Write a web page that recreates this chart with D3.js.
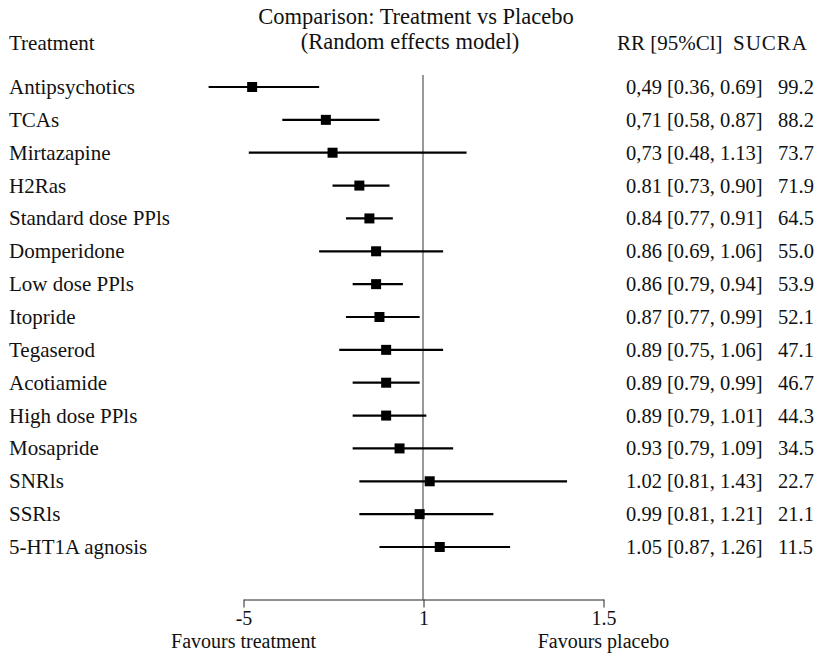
<!DOCTYPE html>
<html>
<head>
<meta charset="utf-8">
<script src="https://cdn.jsdelivr.net/npm/d3@7"></script>
<style>
  body { margin: 0; background: #fff; }
  text { font-family: "Liberation Serif", "DejaVu Serif", serif; fill: #111; }
</style>
</head>
<body>
<svg width="826" height="653"></svg>
<script>
var treatments = ["Antipsychotics", "TCAs", "Mirtazapine", "H2Ras", "Standard dose PPls",
  "Domperidone", "Low dose PPls", "Itopride", "Tegaserod", "Acotiamide",
  "High dose PPls", "Mosapride", "SNRls", "SSRls", "5-HT1A agnosis"];
var rr    = [0.49, 0.71, 0.73, 0.81, 0.84, 0.86, 0.86, 0.87, 0.89, 0.89, 0.89, 0.93, 1.02, 0.99, 1.05];
var lower = [0.36, 0.58, 0.48, 0.73, 0.77, 0.69, 0.79, 0.77, 0.75, 0.79, 0.79, 0.79, 0.81, 0.81, 0.87];
var upper = [0.69, 0.87, 1.13, 0.90, 0.91, 1.06, 0.94, 0.99, 1.06, 0.99, 1.01, 1.09, 1.43, 1.21, 1.26];
var rrText = ["0,49 [0.36, 0.69]", "0,71 [0.58, 0.87]", "0,73 [0.48, 1.13]", "0.81 [0.73, 0.90]",
  "0.84 [0.77, 0.91]", "0.86 [0.69, 1.06]", "0.86 [0.79, 0.94]", "0.87 [0.77, 0.99]",
  "0.89 [0.75, 1.06]", "0.89 [0.79, 0.99]", "0.89 [0.79, 1.01]", "0.93 [0.79, 1.09]",
  "1.02 [0.81, 1.43]", "0.99 [0.81, 1.21]", "1.05 [0.87, 1.26]"];
var sucra = ["99.2", "88.2", "73.7", "71.9", "64.5", "55.0", "53.9", "52.1", "47.1", "46.7",
  "44.3", "34.5", "22.7", "21.1", "11.5"];
var tickValues = [0.5, 1, 1.5];
var tickLabels = ["-5", "1", "1.5"];

var svg = d3.select("svg");

var rows = treatments.map(function(t, i) {
  return {name: t, rr: rr[i], lo: lower[i], hi: upper[i], txt: rrText[i], sucra: sucra[i]};
});

// marks scale (1 sits at the reference line)
var x = d3.scaleLinear().domain([0.5, 1.5]).range([255.5, 590.5]);
// the printed axis is spaced a little wider than the marks
var xAxisScale = d3.scaleLinear().domain([0.5, 1.5]).range([243.5, 603.5]);

var y = d3.scalePoint().domain(treatments).range([87, 547]);

// header
svg.append("text").attr("x", 416).attr("y", 24).attr("text-anchor", "middle")
  .style("font-size", "22.5px").text("Comparison: Treatment vs Placebo");
svg.append("text").attr("x", 410).attr("y", 49).attr("text-anchor", "middle")
  .style("font-size", "22.5px").text("(Random effects model)");
svg.append("text").attr("x", 9).attr("y", 50).style("font-size", "21px").text("Treatment");
svg.append("text").attr("x", 617).attr("y", 50).style("font-size", "21px").text("RR [95%Cl]");
svg.append("text").attr("x", 733).attr("y", 50).style("font-size", "21px")
  .style("letter-spacing", "1px").text("SUCRA");

// reference line at 1
svg.append("line")
  .attr("x1", x(1)).attr("x2", x(1))
  .attr("y1", 75).attr("y2", 599.5)
  .style("stroke", "#555").style("stroke-width", 1.2);

// axis
var axis = svg.append("g")
  .attr("transform", "translate(0,599.5)")
  .call(d3.axisBottom(xAxisScale).tickValues(tickValues)
    .tickFormat(function(d, i) { return tickLabels[i]; })
    .tickSize(8).tickSizeOuter(0).tickPadding(3));
axis.select(".domain").style("stroke", "#222");
axis.selectAll(".tick line").style("stroke", "#222");
axis.selectAll(".tick text")
  .style("font-family", "Liberation Serif, serif")
  .style("font-size", "20px").style("fill", "#111");

svg.append("text").attr("x", xAxisScale(0.5)).attr("y", 648).attr("text-anchor", "middle")
  .style("font-size", "20px").text("Favours treatment");
svg.append("text").attr("x", xAxisScale(1.5)).attr("y", 648).attr("text-anchor", "middle")
  .style("font-size", "20px").text("Favours placebo");

// rows
var row = svg.append("g").selectAll("g")
  .data(rows)
  .enter().append("g")
    .attr("transform", function(d) { return "translate(0," + y(d.name) + ")"; });

row.append("text").attr("x", 9).attr("y", 7)
  .style("font-size", "21px").text(function(d) { return d.name; });

row.append("line")
  .attr("x1", function(d) { return x(d.lo); })
  .attr("x2", function(d) { return x(d.hi); })
  .style("stroke", "#000").style("stroke-width", 2.2);

row.append("rect")
  .attr("x", function(d) { return x(d.rr) - 5; })
  .attr("y", -5)
  .attr("width", 10).attr("height", 10)
  .style("fill", "#000");

row.append("text").attr("x", 626).attr("y", 7)
  .style("font-size", "20.5px").text(function(d) { return d.txt; });
row.append("text").attr("x", 778).attr("y", 7)
  .style("font-size", "20.5px").text(function(d) { return d.sucra; });
</script>
</body>
</html>
